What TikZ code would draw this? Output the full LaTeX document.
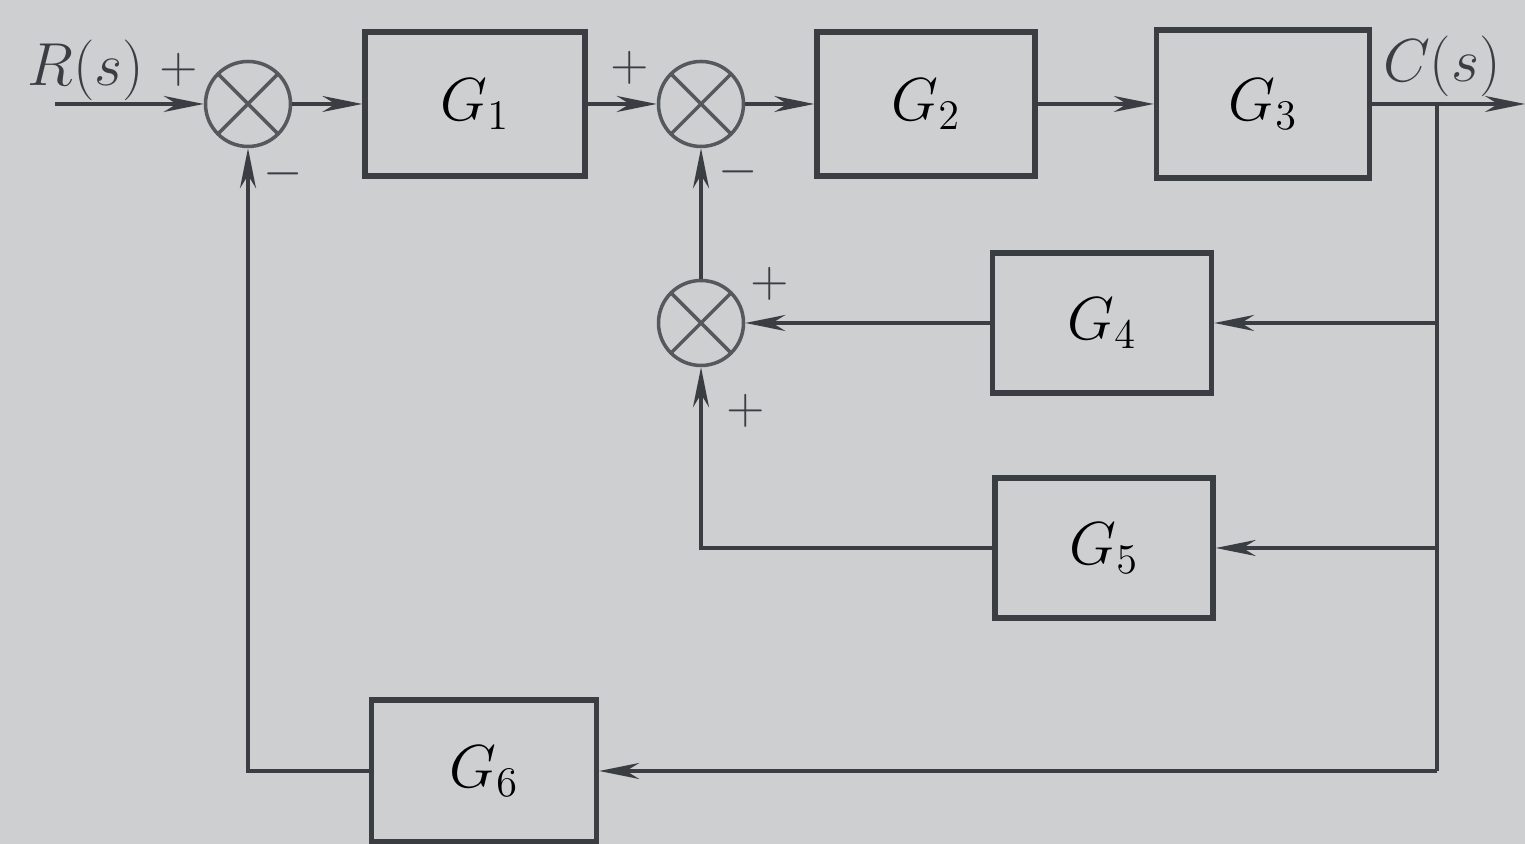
\documentclass[tikz,border=0pt]{standalone}
\usepackage{xcolor}
\usepackage{tikz}
\usetikzlibrary{arrows.meta}
\definecolor{BDPaper}{HTML}{CDCFD0}
\definecolor{BDLine}{HTML}{3A3D42}
\definecolor{BDRing}{HTML}{55585C}

\begin{document}
\begin{tikzpicture}[x=1cm,y=1cm,
  block/.style={draw=BDLine,line width=1.5pt,minimum width=2.2cm,minimum height=1.44cm,inner sep=0pt,font=\LARGE},
  sumjn/.style={circle,draw=BDRing,line width=1pt,minimum size=0.85cm,inner sep=0pt,
    path picture={\draw[BDRing,line width=1pt] (path picture bounding box.north west) -- (path picture bounding box.south east)
      (path picture bounding box.north east) -- (path picture bounding box.south west);}},
  sig/.style={draw=BDLine,line width=1.1pt,-{Stealth[length=4mm,width=1.6mm]}},
  wire/.style={draw=BDLine,line width=1.1pt},
  sgn/.style={font=\Large,text=BDLine}]
\fill[BDPaper] (0,0) rectangle (15.25,8.44);
\path[use as bounding box] (0,0) rectangle (15.25,8.44);
% forward path
\coordinate (in) at (0.55,7.40);
\node[sumjn] (s1) at (2.48,7.40) {};
\node[block] (g1) at (4.75,7.40) {$G_1$};
\node[sumjn] (s2) at (7.01,7.40) {};
\node[block,minimum width=2.18cm] (g2) at (9.26,7.40) {$G_2$};
\node[block,minimum width=2.13cm,minimum height=1.48cm] (g3) at (12.63,7.40) {$G_3$};
\coordinate (out) at (15.25,7.40);
\coordinate (br) at (14.37,7.40);
% inner loops
\node[sumjn] (s3) at (7.01,5.21) {};
\node[block,minimum width=2.19cm,minimum height=1.40cm] (g4) at (11.02,5.21) {$G_4$};
\node[block,minimum width=2.18cm,minimum height=1.40cm] (g5) at (11.04,2.96) {$G_5$};
\node[block,minimum width=2.25cm,minimum height=1.42cm] (g6) at (4.84,0.73) {$G_6$};
% signals
\path[sig] (in) -- (s1);
\path[sig] (s1) -- (g1);
\path[sig] (g1) -- (s2);
\path[sig] (s2) -- (g2);
\path[sig] (g2) -- (g3);
\path[sig] (g3) -- (out);
\path[wire] (br) -- (br |- g6);
\path[sig] (br |- g4) -- (g4);
\path[sig] (g4) -- (s3);
\path[sig] (br |- g5) -- (g5);
\path[sig] (g5) -| (s3);
\path[sig] (s3) -- (s2);
\path[sig] (br |- g6) -- (g6);
\path[sig] (g6) -| (s1);
% labels
\node[font=\LARGE,text=BDLine] (rs) at (0.86,7.74) {$R(s)$};
\node[font=\LARGE,text=BDLine] (cs) at (14.42,7.78) {$C(s)$};
\node[sgn] (p1) at (1.79,7.74) {$+$};
\node[sgn] (m1) at (2.83,6.70) {$-$};
\node[sgn] (p2) at (6.30,7.76) {$+$};
\node[sgn] (m2) at (7.38,6.72) {$-$};
\node[sgn] (p3) at (7.70,5.60) {$+$};
\node[sgn] (p4) at (7.46,4.33) {$+$};
\end{tikzpicture}
\end{document}
